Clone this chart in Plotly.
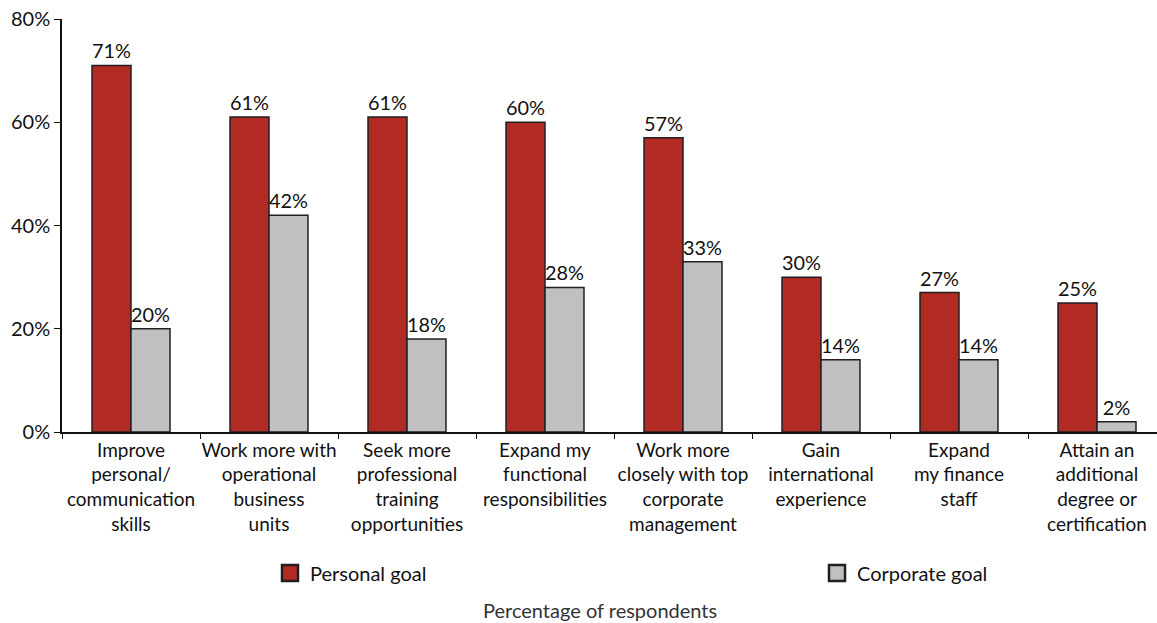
import plotly.graph_objects as go

categories = [
    "Improve<br>personal/<br>communication<br>skills",
    "Work more with<br>operational<br>business<br>units",
    "Seek more<br>professional<br>training<br>opportunities",
    "Expand my<br>functional<br>responsibilities",
    "Work more<br>closely with top<br>corporate<br>management",
    "Gain<br>international<br>experience",
    "Expand<br>my finance<br>staff",
    "Attain an<br>additional<br>degree or<br>certification",
]
personal = [71, 61, 61, 60, 57, 30, 27, 25]
corporate = [20, 42, 18, 28, 33, 14, 14, 2]
y_ticks = [0, 20, 40, 60, 80]
y_tick_labels = ["0%", "20%", "40%", "60%", "80%"]

FONT = "Lato"
W, H = 1157, 623
L, R, T, B = 62, 0, 19, 191
RED, GRAY, EDGE = "#b22a24", "#c0c0c2", "#231f20"

fig = go.Figure()
fig.add_bar(
    x=categories, y=personal, name="Personal goal", showlegend=False,
    marker=dict(color=RED, line=dict(color=EDGE, width=1.5)),
    text=[f"{v}%" for v in personal], textposition="outside",
    textfont=dict(size=20, color="#111", family=FONT), cliponaxis=False,
)
fig.add_bar(
    x=categories, y=corporate, name="Corporate goal", showlegend=False,
    marker=dict(color=GRAY, line=dict(color=EDGE, width=1.5)),
    text=[f"{v}%" for v in corporate], textposition="outside",
    textfont=dict(size=20, color="#111", family=FONT), cliponaxis=False,
)
# legend entries (square swatches)
fig.add_scatter(
    x=[None], y=[None], mode="markers", name="Personal goal", legend="legend",
    marker=dict(symbol="square", size=16, color=RED, line=dict(color=EDGE, width=2.5)),
)
fig.add_scatter(
    x=[None], y=[None], mode="markers", name="Corporate goal", legend="legend2",
    marker=dict(symbol="square", size=16, color=GRAY, line=dict(color=EDGE, width=2.5)),
)

plot_w = W - L - R
plot_h = 432 - T
leg_common = dict(
    orientation="h", yanchor="middle", xanchor="left",
    font=dict(size=20, family=FONT, color="#111"),
    itemsizing="trace", bgcolor="rgba(0,0,0,0)",
)
fig.update_layout(
    width=W, height=H,
    margin=dict(l=L, r=R, t=T, b=B, pad=0, autoexpand=False),
    paper_bgcolor="white", plot_bgcolor="white",
    font=dict(family=FONT, size=19, color="#111"),
    barmode="group", bargap=0.435, bargroupgap=0,
    showlegend=True,
    legend=dict(x=(270 - L) / plot_w, y=(432 - 573) / plot_h, **leg_common),
    legend2=dict(x=(817 - L) / plot_w, y=(432 - 573) / plot_h, **leg_common),
    xaxis=dict(
        range=[-0.5, -0.5 + plot_w / 138.0], automargin=False,
        showline=True, linecolor="#111", linewidth=1.5, tickangle=0,
        ticks="outside", tickson="boundaries", ticklen=5, tickcolor="#111",
        tickfont=dict(size=19, family=FONT, color="#111"),
        showgrid=False, zeroline=False,
    ),
    yaxis=dict(
        range=[0, 80], tickvals=y_ticks, ticktext=y_tick_labels, automargin=False,
        showline=True, linecolor="#111", linewidth=1.5,
        ticks="outside", ticklen=6, tickcolor="#111",
        tickfont=dict(size=20, family=FONT, color="#111"),
        showgrid=False, zeroline=False,
    ),
    annotations=[dict(
        text="Percentage of respondents", xref="paper", yref="paper",
        x=(600 - L) / plot_w, y=(432 - 610) / plot_h,
        xanchor="center", yanchor="middle", showarrow=False,
        font=dict(size=20, family=FONT, color="#333"),
    )],
)

fig.write_html("out.html")
